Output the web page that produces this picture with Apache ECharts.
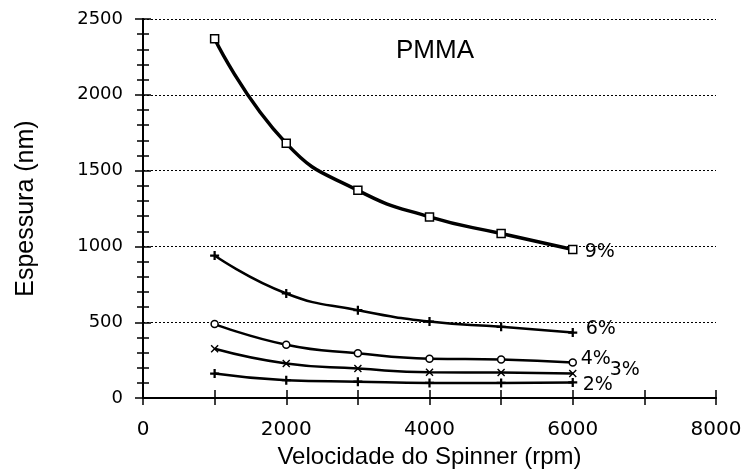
<!DOCTYPE html>
<html>
<head>
<meta charset="utf-8">
<script src="https://cdn.jsdelivr.net/npm/echarts@6/dist/echarts.min.js"></script>
<style>
  html, body { margin: 0; padding: 0; background: #fff; }
  #chart { width: 753px; height: 474px; }
</style>
</head>
<body>
<div id="chart"></div>
<script>
var speeds = [1000, 2000, 3000, 4000, 5000, 6000];
var names = ['9%', '6%', '4%', '3%', '2%'];
var pct9 = [2370, 1680, 1370, 1195, 1085, 980];
var pct6 = [940, 690, 580, 505, 470, 432];
var pct4 = [488, 352, 295, 260, 255, 234];
var pct3 = [325, 228, 195, 170, 168, 163];
var pct2 = [162, 118, 108, 100, 100, 103];

var plus = 'path://M3,0H5V3H8V5H5V8H3V5H0V3H3Z';
var cross = 'path://M0,1L1,0L4,3L7,0L8,1L5,4L8,7L7,8L4,5L1,8L0,7L3,4Z';

var chart = echarts.init(document.getElementById('chart'));

function pairs(vals) {
    return speeds.map(function (s, i) { return [s, vals[i]]; });
}

// hollow = white marker with black outline (squares, circles)
function makeSeries(name, vals, symbol, size, width, hollow, offset) {
    return {
        name: name,
        type: 'line',
        data: pairs(vals),
        smooth: true,
        symbol: symbol,
        symbolSize: size,
        showAllSymbol: true,
        lineStyle: { color: '#000', width: width },
        itemStyle: hollow
            ? { color: '#fff', borderColor: '#000', borderWidth: 1.5 }
            : { color: '#000', borderWidth: 0 },
        endLabel: {
            show: true,
            formatter: name,
            distance: 0,
            offset: offset,
            color: '#000',
            fontFamily: 'DejaVu Sans',
            fontSize: 19
        }
    };
}

var axisText = { color: '#000', fontFamily: 'DejaVu Sans' };

var option = {
    animation: false,
    backgroundColor: '#fff',
    title: {
        text: 'PMMA',
        left: 430,
        top: 33,
        textAlign: 'center',
        textStyle: { color: '#000', fontFamily: 'Liberation Sans', fontSize: 26, fontWeight: 'normal' }
    },
    grid: { left: 143, top: 19, width: 573, height: 384 },
    xAxis: [
        {
            type: 'value', position: 'bottom', min: 0, max: 8000, interval: 1000,
            name: 'Velocidade do Spinner (rpm)', nameLocation: 'middle', nameGap: 40,
            nameTextStyle: { color: '#000', fontFamily: 'Liberation Sans', fontSize: 24 },
            axisLine: { lineStyle: { color: '#000', width: 2 } },
            axisTick: { inside: true, length: 8, lineStyle: { color: '#000', width: 1.5 } },
            axisLabel: Object.assign({ fontSize: 20, margin: 22, formatter: function (v) { return v % 2000 === 0 ? String(v) : ''; } }, axisText),
            splitLine: { show: false }
        },
        {
            type: 'value', position: 'top', min: 0, max: 8000, interval: 1000,
            axisLine: { lineStyle: { color: '#000', width: 2 } },
            axisTick: { inside: true, length: 7, lineStyle: { color: '#000', width: 1.5 } },
            axisLabel: { show: false },
            splitLine: { show: false }
        }
    ],
    yAxis: [
        {
            type: 'value', position: 'left', min: 0, max: 2500, interval: 500,
            name: 'Espessura (nm)', nameLocation: 'middle', nameGap: 104,
            nameTextStyle: { color: '#000', fontFamily: 'Liberation Sans', fontSize: 25 },
            axisLine: { lineStyle: { color: '#000', width: 2 } },
            axisTick: { inside: true, length: 8, lineStyle: { color: '#000', width: 1.5 } },
            minorTick: { show: true, splitNumber: 5, length: 6, lineStyle: { color: '#000', width: 1.5 } },
            axisLabel: Object.assign({ fontSize: 18, margin: 20, formatter: function (v) { return String(v); } }, axisText),
            splitLine: { show: true, lineStyle: { color: '#000', width: 1, type: [2, 2] } }
        },
        {
            type: 'value', position: 'right', min: 0, max: 2500, interval: 500,
            axisLine: { lineStyle: { color: '#000', width: 2 } },
            axisTick: { inside: true, length: 8, lineStyle: { color: '#000', width: 1.5 } },
            minorTick: { show: true, splitNumber: 5, length: 6, lineStyle: { color: '#000', width: 1.5 } },
            axisLabel: { show: false },
            splitLine: { show: false }
        }
    ],
    series: [
        makeSeries(names[0], pct9, 'rect', 8, 3.5, true, [12, 3]),
        makeSeries(names[1], pct6, plus, 9, 2.5, false, [13, -4]),
        makeSeries(names[2], pct4, 'circle', 7, 2.5, true, [8, -4]),
        makeSeries(names[3], pct3, cross, 8, 2.5, false, [37, -3]),
        makeSeries(names[4], pct2, plus, 9, 2.5, false, [10, 3])
    ]
};
chart.setOption(option);
</script>
</body>
</html>
